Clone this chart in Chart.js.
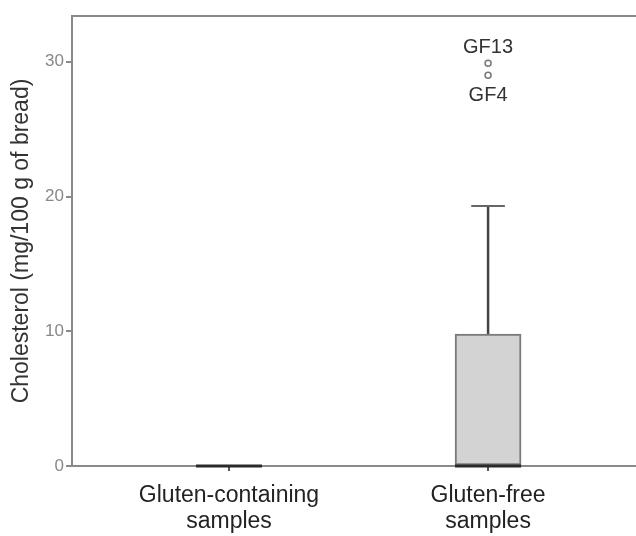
<!DOCTYPE html>
<html>
<head>
<meta charset="utf-8">
<script src="https://cdn.jsdelivr.net/npm/chart.js@4"></script>
<style>
  html, body { margin: 0; padding: 0; background: #fff; overflow: hidden; }
  canvas { display: block; }
</style>
</head>
<body>
<canvas id="boxChart" width="636" height="536"></canvas>
<script>
// 그룹 / 박스플롯 값
const groupLabels = [['Gluten-containing', 'samples'], ['Gluten-free', 'samples']];
const groupPos = [1, 2];
const lowWhisker = [0, 0];
const q1 = [0, 0];
const median = [0, 0];
const q3 = [0, 9.8];
const highWhisker = [0, 19.3];
const outlierPos = [2, 2];
const outlierVals = [29.9, 29.0];
const outlierNames = ['GF13', 'GF4'];
const yTicks = [0, 10, 20, 30];

const BOX_W = 0.255;   // box width in x units
const CAP_W = 0.13;
const FONT = '"Liberation Sans", Arial, sans-serif';

const boxPlugin = {
    id: 'boxExtras',
    afterDatasetsDraw(chart) {
        const ctx = chart.ctx;
        const x = chart.scales.x;
        const y = chart.scales.y;
        const area = chart.chartArea;
        ctx.save();
        // top frame line
        ctx.strokeStyle = '#8a8a8a';
        ctx.lineWidth = 2;
        ctx.beginPath();
        ctx.moveTo(area.left, area.top);
        ctx.lineTo(area.right, area.top);
        ctx.stroke();

        for (let i = 0; i < groupPos.length; i++) {
            const p = groupPos[i];
            const cx = x.getPixelForValue(p);
            // whiskers
            ctx.strokeStyle = '#444';
            ctx.lineWidth = 2.5;
            if (highWhisker[i] > q3[i]) {
                ctx.beginPath();
                ctx.moveTo(cx, y.getPixelForValue(q3[i]));
                ctx.lineTo(cx, y.getPixelForValue(highWhisker[i]));
                ctx.stroke();
                ctx.strokeStyle = '#666';
                ctx.lineWidth = 2;
                ctx.beginPath();
                ctx.moveTo(x.getPixelForValue(p - CAP_W / 2), y.getPixelForValue(highWhisker[i]));
                ctx.lineTo(x.getPixelForValue(p + CAP_W / 2), y.getPixelForValue(highWhisker[i]));
                ctx.stroke();
            }
            if (lowWhisker[i] < q1[i]) {
                ctx.beginPath();
                ctx.moveTo(cx, y.getPixelForValue(q1[i]));
                ctx.lineTo(cx, y.getPixelForValue(lowWhisker[i]));
                ctx.stroke();
            }
            // median
            ctx.strokeStyle = '#2a2a2a';
            ctx.lineWidth = 3;
            ctx.beginPath();
            ctx.moveTo(x.getPixelForValue(p - BOX_W / 2), y.getPixelForValue(median[i]));
            ctx.lineTo(x.getPixelForValue(p + BOX_W / 2), y.getPixelForValue(median[i]));
            ctx.stroke();
        }

        // outlier labels
        ctx.fillStyle = '#333';
        ctx.font = '20px ' + FONT;
        ctx.textAlign = 'center';
        for (let j = 0; j < outlierVals.length; j++) {
            const px = x.getPixelForValue(outlierPos[j]);
            const py = y.getPixelForValue(outlierVals[j]);
            if (j === 0) {
                ctx.textBaseline = 'bottom';
                ctx.fillText(outlierNames[j], px, py - 6);
            } else {
                ctx.textBaseline = 'top';
                ctx.fillText(outlierNames[j], px, py + 10);
            }
        }
        ctx.restore();
    }
};

const chartCtx = document.getElementById('boxChart').getContext('2d');
const boxChart = new Chart(chartCtx, {
    type: 'bar',
    data: {
        datasets: [{
            type: 'bar',
            data: groupPos.map((p, i) => ({ x: p, y: [q1[i], q3[i]] })),
            backgroundColor: '#d3d3d3',
            borderColor: '#7a7a7a',
            borderWidth: 2,
            borderSkipped: false,
            barThickness: 66
        }, {
            type: 'scatter',
            data: outlierPos.map((p, i) => ({ x: p, y: outlierVals[i] })),
            pointRadius: 3,
            pointBackgroundColor: '#fff',
            pointBorderColor: '#777',
            pointBorderWidth: 1.5,
            showLine: false
        }]
    },
    options: {
        responsive: false,
        animation: false,
        layout: {
            autoPadding: false,
            padding: { top: 16, right: 0, left: 0, bottom: 0 }
        },
        plugins: {
            legend: { display: false },
            tooltip: { enabled: false }
        },
        scales: {
            x: {
                type: 'linear',
                offset: false,
                min: 0.394,
                max: 2.571,
                afterBuildTicks: (axis) => {
                    axis.ticks = groupPos.map(v => ({ value: v }));
                },
                afterFit: (axis) => {
                    axis.height = 70;
                    axis.paddingRight = 0;
                },
                ticks: {
                    callback: (val) => groupLabels[groupPos.indexOf(val)],
                    color: '#222',
                    font: { size: 23, family: FONT, lineHeight: 1.13 },
                    padding: 12,
                    maxRotation: 0
                },
                grid: {
                    offset: false,
                    drawOnChartArea: false,
                    drawTicks: true,
                    tickLength: 5,
                    color: '#555',
                    lineWidth: 2
                },
                border: { display: true, color: '#8a8a8a', width: 2 }
            },
            y: {
                min: 0,
                max: 33.4,
                afterBuildTicks: (axis) => {
                    axis.ticks = yTicks.map(v => ({ value: v }));
                },
                afterFit: (axis) => { axis.width = 72; },
                ticks: {
                    color: '#888',
                    font: { size: 17, family: FONT },
                    padding: 2
                },
                grid: {
                    drawOnChartArea: false,
                    drawTicks: true,
                    tickLength: 6,
                    color: '#8a8a8a',
                    lineWidth: 2
                },
                border: { display: true, color: '#8a8a8a', width: 2 },
                title: {
                    display: true,
                    text: 'Cholesterol (mg/100 g of bread)',
                    color: '#333',
                    font: { size: 23, family: FONT },
                    padding: { top: 8, bottom: 2 }
                }
            }
        }
    },
    plugins: [boxPlugin]
});
</script>
</body>
</html>
